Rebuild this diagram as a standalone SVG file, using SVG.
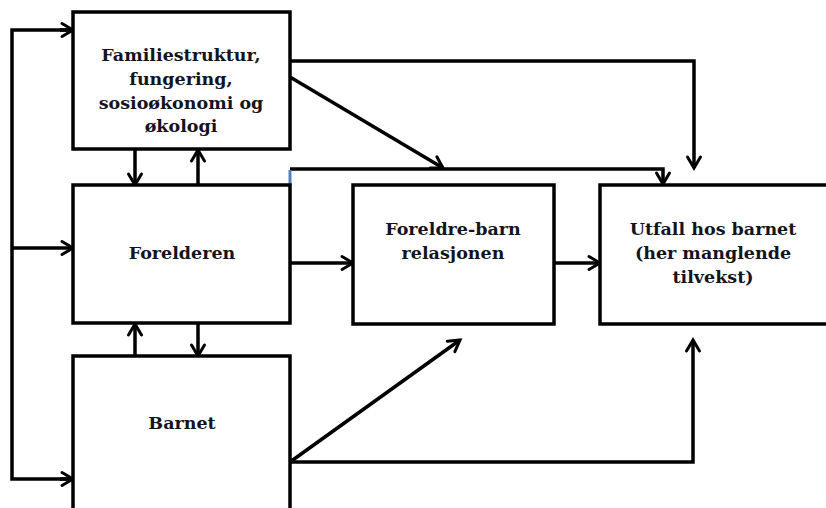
<svg xmlns="http://www.w3.org/2000/svg" width="826" height="508" viewBox="0 0 826 508">
<defs>
<marker id="ah" markerUnits="userSpaceOnUse" markerWidth="16" markerHeight="16" refX="13" refY="8" orient="auto" overflow="visible">
<path d="M2,1.5 L13,8 L2,14.5" fill="none" stroke="#000" stroke-width="3" stroke-linecap="round" stroke-linejoin="miter"/>
</marker>
<style>
.box{fill:#fff;stroke:#000;stroke-width:3.5}
.t{font-family:"DejaVu Serif","Liberation Serif",serif;font-weight:bold;font-size:17.5px;fill:#14141e;text-anchor:middle}
.c{fill:none;stroke:#000;stroke-width:3.5;stroke-linejoin:miter}
.a{marker-end:url(#ah)}
</style>
</defs>
<rect width="826" height="508" fill="#fff"/>
<g id="connectors">
<polyline class="c" points="73,30 12,30 12,479 73,479"/>
<line class="c a" x1="60" y1="30" x2="73" y2="30"/>
<line class="c a" x1="12" y1="248" x2="73" y2="248"/>
<line class="c a" x1="60" y1="479" x2="73" y2="479"/>
<line class="c a" x1="135" y1="149" x2="135" y2="185"/>
<line class="c a" x1="198" y1="185" x2="198" y2="150"/>
<line class="c a" x1="135" y1="356" x2="135" y2="324"/>
<line class="c a" x1="198" y1="323" x2="198" y2="356"/>
<polyline class="c a" points="290,61 694,61 694,168"/>
<line class="c a" x1="290" y1="77" x2="443" y2="168"/>
<polyline class="c a" points="290,169 663,169 663,184"/>
<line x1="290" y1="170" x2="290" y2="185" stroke="#4f81bd" stroke-width="3"/>
<line class="c a" x1="290" y1="263" x2="353" y2="263"/>
<line class="c a" x1="554" y1="263" x2="600" y2="263"/>
<line class="c a" x1="290" y1="462" x2="460" y2="340"/>
<polyline class="c a" points="290,462 693,462 693,340"/>
</g>
<g id="familie">
<rect class="box" x="73" y="12" width="217" height="137"/>
<text class="t" x="181" y="61">Familiestruktur,</text>
<text class="t" x="181" y="85">fungering,</text>
<text class="t" x="181" y="109">sosioøkonomi og</text>
<text class="t" x="181" y="132">økologi</text>
</g>
<g id="forelderen">
<rect class="box" x="73" y="185" width="217" height="138"/>
<text class="t" x="182" y="259">Forelderen</text>
</g>
<g id="barnet">
<rect class="box" x="73" y="356" width="217" height="170"/>
<text class="t" x="182" y="429">Barnet</text>
</g>
<g id="relasjonen">
<rect class="box" x="353" y="185" width="201" height="139"/>
<text class="t" x="453" y="235">Foreldre-barn</text>
<text class="t" x="453" y="259">relasjonen</text>
</g>
<g id="utfall">
<rect class="box" x="600" y="185" width="240" height="139"/>
<text class="t" x="713" y="235">Utfall hos barnet</text>
<text class="t" x="713" y="259">(her manglende</text>
<text class="t" x="713" y="283">tilvekst)</text>
</g>
</svg>
